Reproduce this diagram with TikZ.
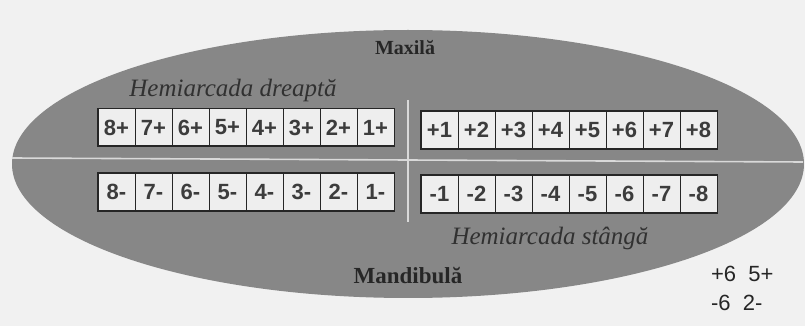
\documentclass[tikz,border=0pt]{standalone}
\usepackage{fontspec}
\setmainfont{Liberation Serif}
\setsansfont{Liberation Sans}
\usepackage{xcolor}
\usetikzlibrary{fit}
\definecolor{Paper}{HTML}{F1F1F1}
\definecolor{Jaw}{HTML}{878787}
\definecolor{Rule}{HTML}{D9D9D9}
\definecolor{Cell}{HTML}{EEEEEE}
\definecolor{Ink}{HTML}{262626}

\begin{document}
\begin{tikzpicture}[x=0.5pt,y=-0.5pt,
  tooth/.style={draw=Ink,line width=0.5pt,fill=Cell,minimum width=18.5pt,minimum height=18.5pt,inner sep=0pt,
    font=\sffamily\bfseries\fontsize{11}{12}\selectfont,text=Ink!90},
  rowframe/.style={draw=Ink,line width=0.9pt,inner sep=0pt},
  side/.style={font=\itshape\fontsize{12.5}{14}\selectfont,text=Ink!95},
  jawname/.style={font=\bfseries\fontsize{10}{12}\selectfont,text=Ink},
  midline/.style={Rule,line width=0.8pt}]
  \fill[Paper] (0,0) rectangle (805,326);
  \useasboundingbox (0,0) rectangle (805,326);
  \fill[Jaw] (408,164) ellipse [x radius=198pt,y radius=67pt];
  \draw[midline] (12,158) -- (803,162);
  \draw[midline] (408,100) -- (408,222);
  % upper arch
  \foreach \t [count=\i] in {8,...,1}{\node[tooth] (ur\i) at (79.5+37*\i,127.5) {\t+};}
  \foreach \t [count=\i] in {1,...,8}{\node[tooth] (ul\i) at (402.5+37*\i,130) {+\t};}
  % lower arch
  \foreach \t [count=\i] in {8,...,1}{\node[tooth] (lr\i) at (79.5+37*\i,192) {\t-};}
  \foreach \t [count=\i] in {1,...,8}{\node[tooth] (ll\i) at (402.5+37*\i,194) {-\t};}
  \node[rowframe,fit=(ur1)(ur8)] (upright) {};
  \node[rowframe,fit=(ul1)(ul8)] (upleft) {};
  \node[rowframe,fit=(lr1)(lr8)] (lowright) {};
  \node[rowframe,fit=(ll1)(ll8)] (lowleft) {};
  \node[jawname] (maxila) at (405,48) {Maxilă};
  \node[jawname,font=\bfseries\fontsize{11.5}{13}\selectfont] (mandibula) at (408,276) {Mandibulă};
  \node[side] (dreapta) at (233,90) {Hemiarcada dreaptă};
  \node[side] (stanga) at (550,238) {Hemiarcada stângă};
  \node[font=\sffamily\fontsize{11}{12}\selectfont,text=Ink,anchor=west] (ex1) at (704,274) {+6\ \ 5+};
  \node[font=\sffamily\fontsize{11}{12}\selectfont,text=Ink,anchor=west] (ex2) at (704,303) {-6\ \ 2-};
\end{tikzpicture}
\end{document}
